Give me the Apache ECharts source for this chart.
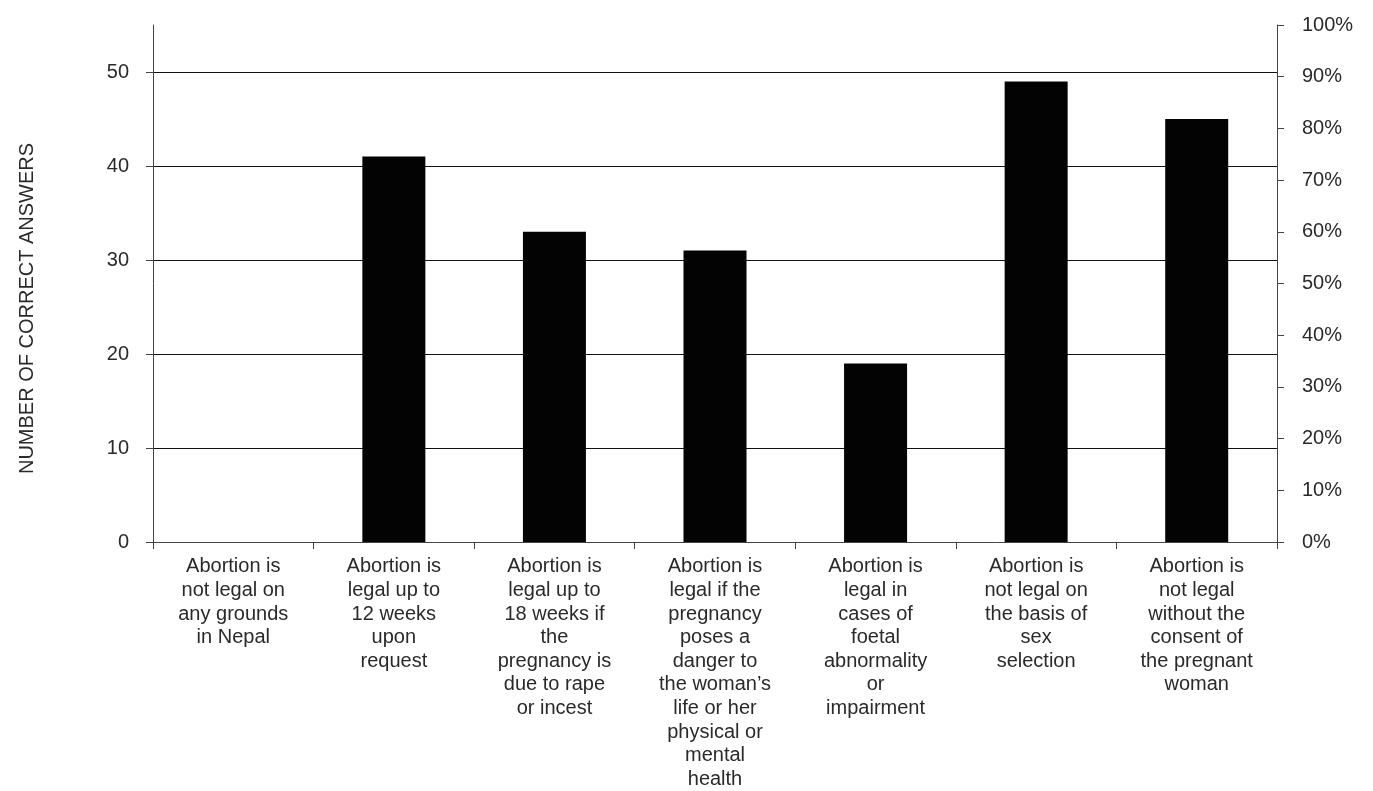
<!DOCTYPE html>
<html>
<head>
<meta charset="utf-8">
<script src="https://cdn.jsdelivr.net/npm/echarts@6/dist/echarts.min.js"></script>
<style>
html,body{margin:0;padding:0;background:#fff;overflow:hidden;}
#chart{width:1373px;height:791px;}
</style>
</head>
<body>
<div id="chart"></div>
<script>
var categories = [
  "Abortion is\nnot legal on\nany grounds\nin Nepal",
  "Abortion is\nlegal up to\n12 weeks\nupon\nrequest",
  "Abortion is\nlegal up to\n18 weeks if\nthe\npregnancy is\ndue to rape\nor incest",
  "Abortion is\nlegal if the\npregnancy\nposes a\ndanger to\nthe woman\u2019s\nlife or her\nphysical or\nmental\nhealth",
  "Abortion is\nlegal in\ncases of\nfoetal\nabnormality\nor\nimpairment",
  "Abortion is\nnot legal on\nthe basis of\nsex\nselection",
  "Abortion is\nnot legal\nwithout the\nconsent of\nthe pregnant\nwoman"
];
var correctAnswers = [0, 41, 33, 31, 19, 49, 45];
var leftAxisMax = 55;
var leftAxisStep = 10;
var rightAxisMax = 100;
var rightAxisStep = 10;
var axisName = "NUMBER OF CORRECT ANSWERS";

var FONT = "'Liberation Sans', Arial, sans-serif";
var TXT = "#2a2a2a";
var chart = echarts.init(document.getElementById('chart'), null, {renderer: 'canvas'});
chart.setOption({
  animation: false,
  backgroundColor: '#fff',
  grid: {left: 153, right: 96, top: 25, bottom: 245, containLabel: false},
  xAxis: {
    type: 'category',
    data: categories,
    axisLine: {show: true, lineStyle: {color: '#444', width: 1}},
    axisTick: {show: true, alignWithLabel: false, length: 7, lineStyle: {color: '#444'}},
    axisLabel: {interval: 0, margin: 13, color: TXT, fontFamily: FONT, fontSize: 20, lineHeight: 23.6, align: 'center', verticalAlign: 'top'},
    splitLine: {show: false}
  },
  yAxis: [
    {
      type: 'value',
      position: 'left',
      min: 0, max: leftAxisMax, interval: leftAxisStep,
      name: axisName,
      nameLocation: 'middle',
      nameRotate: 90,
      nameGap: 116,
      nameTextStyle: {color: TXT, fontFamily: FONT, fontSize: 20, padding: [0, 50, 0, 0]},
      axisLine: {show: true, lineStyle: {color: '#444', width: 1}},
      axisTick: {show: true, length: 7, lineStyle: {color: '#444'}},
      axisLabel: {margin: 24, color: TXT, fontFamily: FONT, fontSize: 20, showMaxLabel: false,
        formatter: function (v) { return v > 50 ? '' : String(v); }},
      splitLine: {show: true, showMaxLine: false, showMinLine: false, lineStyle: {color: '#111', width: 1}}
    },
    {
      type: 'value',
      position: 'right',
      min: 0, max: rightAxisMax, interval: rightAxisStep,
      alignTicks: false,
      axisLine: {show: true, lineStyle: {color: '#444', width: 1}},
      axisTick: {show: true, length: 7, lineStyle: {color: '#444'}},
      axisLabel: {margin: 25, color: TXT, fontFamily: FONT, fontSize: 20, formatter: '{value}%'},
      splitLine: {show: false}
    }
  ],
  series: [{
    type: 'bar',
    yAxisIndex: 0,
    data: correctAnswers,
    barWidth: 63,
    itemStyle: {color: '#030303'}
  }]
});
</script>
</body>
</html>
